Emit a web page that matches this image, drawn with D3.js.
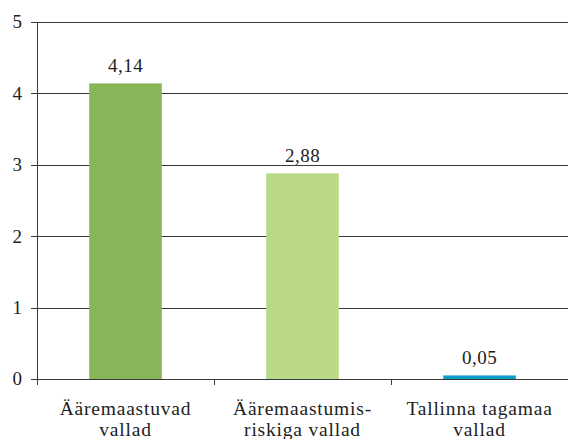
<!DOCTYPE html>
<html><head><meta charset="utf-8">
<script src="https://cdn.jsdelivr.net/npm/d3@7"></script>
<style>body{margin:0;background:#fff}svg{display:block}text{font-family:"Liberation Serif",serif;fill:#222}</style>
</head><body>
<svg id="c" width="568" height="439"></svg>
<script>
const categories = [["Ääremaastuvad","vallad"],["Ääremaastumis-","riskiga vallad"],["Tallinna tagamaa","vallad"]];
const values = [4.14, 2.88, 0.05];
const labels = ["4,14","2,88","0,05"];
const colors = ["#88b557","#b9d986","#0a9dcb"];
const yTicks = [0,1,2,3,4,5];

const svg = d3.select("#c");
const m = {l:37, r:0, t:22, b:60};
const W = 568, H = 439;
const x = d3.scaleBand().domain(d3.range(categories.length)).range([m.l, W - m.r]).paddingInner(0.59).paddingOuter(0.295);
const y = d3.scaleLinear().domain([0,5]).range([379, 22]);

// gridlines
svg.append("g").selectAll("line").data(yTicks.filter(d=>d>0)).join("line")
  .attr("x1", m.l).attr("x2", W).attr("y1", d=>Math.round(y(d))+0.5).attr("y2", d=>Math.round(y(d))+0.5)
  .attr("stroke", "#3a3a3a").attr("stroke-width", 1);

// y axis labels and ticks
svg.append("g").selectAll("line").data(yTicks).join("line")
  .attr("x1", m.l-6).attr("x2", m.l).attr("y1", d=>Math.round(y(d))+0.5).attr("y2", d=>Math.round(y(d))+0.5).attr("stroke","#3a3a3a");
svg.append("g").selectAll("text").data(yTicks).join("text")
  .attr("x", 22).attr("y", d=>y(d)).attr("dy","0.34em").attr("text-anchor","end")
  .attr("font-size", 19).text(d=>d);

// bars
svg.append("g").selectAll("rect").data(values).join("rect")
  .attr("x", (d,i)=>x(i)).attr("width", x.bandwidth())
  .attr("y", d=>y(d)).attr("height", d=>y(0)-y(d)).attr("fill",(d,i)=>colors[i]);

// value labels
svg.append("g").selectAll("text").data(values).join("text")
  .attr("x",(d,i)=>x(i)+x.bandwidth()/2).attr("y", d=>y(d)-11).attr("text-anchor","middle")
  .attr("font-size",19).attr("letter-spacing",0.5).text((d,i)=>labels[i]);

// x axis
svg.append("line").attr("x1", m.l).attr("x2", W).attr("y1", y(0)+0.5).attr("y2", y(0)+0.5).attr("stroke","#3a3a3a");
svg.append("line").attr("x1", m.l+0.5).attr("x2", m.l+0.5).attr("y1", y(5)).attr("y2", y(0)).attr("stroke","#3a3a3a");
const step = (W - m.l)/categories.length;
svg.append("g").selectAll("line").data(d3.range(categories.length)).join("line")
  .attr("x1", i=>Math.round(m.l + i*step)+0.5).attr("x2", i=>Math.round(m.l + i*step)+0.5)
  .attr("y1", y(0)).attr("y2", y(0)+6).attr("stroke","#3a3a3a");

// category labels
const cl = svg.append("g").selectAll("text").data(categories).join("text")
  .attr("x",(d,i)=>x(i)+x.bandwidth()/2).attr("y", 415).attr("text-anchor","middle")
  .attr("font-size",19.5).attr("letter-spacing",0.8);
cl.selectAll("tspan").data(d=>d).join("tspan").attr("x", function(){return this.parentNode.getAttribute("x");})
  .attr("dy",(d,j)=>j===0?0:21).text(d=>d);
</script>
</body></html>
